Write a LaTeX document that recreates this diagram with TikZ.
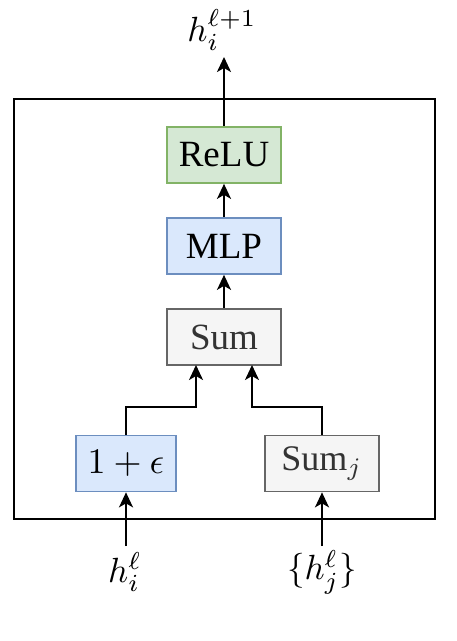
\documentclass[tikz,border=0pt]{standalone}
\usepackage{graphicx}
\usepackage{fontspec}
\setmainfont{Liberation Serif}
\usetikzlibrary{arrows.meta}
\definecolor{gfill}{HTML}{D5E8D4}
\definecolor{gdraw}{HTML}{82B366}
\definecolor{bfill}{HTML}{DAE8FC}
\definecolor{bdraw}{HTML}{6C8EBF}
\definecolor{sfill}{HTML}{F5F5F5}
\definecolor{sdraw}{HTML}{666666}
\newcommand{\mybigmath}[2]{\scalebox{#1}{\normalsize$#2$}}
\tikzset{
  blk/.style={draw, line width=1.7pt, minimum width=114pt, minimum height=56pt, inner sep=0pt, font=\fontsize{37}{44}\selectfont},
  greenbox/.style={blk, fill=gfill, draw=gdraw},
  bluebox/.style={blk, fill=bfill, draw=bdraw},
  graybox/.style={blk, fill=sfill, draw=sdraw, text=black!80},
  arr/.style={line width=2pt, -{Stealth[length=15pt,width=14pt,inset=4pt]}},
  lbl/.style={inner sep=0pt}
}
\begin{document}
\begin{tikzpicture}[x=1pt,y=-1pt]
\useasboundingbox (0,0) rectangle (457,641);
\draw[line width=1.3pt] (14,99) rectangle (435,519);
\node[greenbox] (relu) at (224,155) {ReLU};
\node[bluebox] (mlp) at (224,246) {MLP};
\node[graybox] (sum) at (224,337) {Sum};
\node[bluebox, minimum width=100pt, text=black] (eps) at (126,463.5) {\mybigmath{3.6}{1+\epsilon}};
\node[graybox] (sumj) at (322,463.5) {\mybigmath{3.6}{\mathrm{Sum}_j}};
\node[lbl] (out) at (222,30) {\mybigmath{3.5}{h_i^{\ell+1}}};
\node[lbl] (hi) at (125,572) {\mybigmath{3.5}{h_i^{\ell}}};
\node[lbl] (hj) at (322,572) {\mybigmath{3.5}{\{h_j^{\ell}\}}};
\coordinate (top) at (224,57);
\coordinate (bl) at (126,546);
\coordinate (br) at (322,546);
\draw[arr] (relu.north) -- (top);
\draw[arr] (mlp.north) -- (relu.south);
\draw[arr] (sum.north) -- (mlp.south);
\draw[arr] (eps.north) |- (196,407) -- (196,365);
\draw[arr] (sumj.north) |- (252,407) -- (252,365);
\draw[arr] (bl) -- (eps.south);
\draw[arr] (br) -- (sumj.south);
\end{tikzpicture}
\end{document}
